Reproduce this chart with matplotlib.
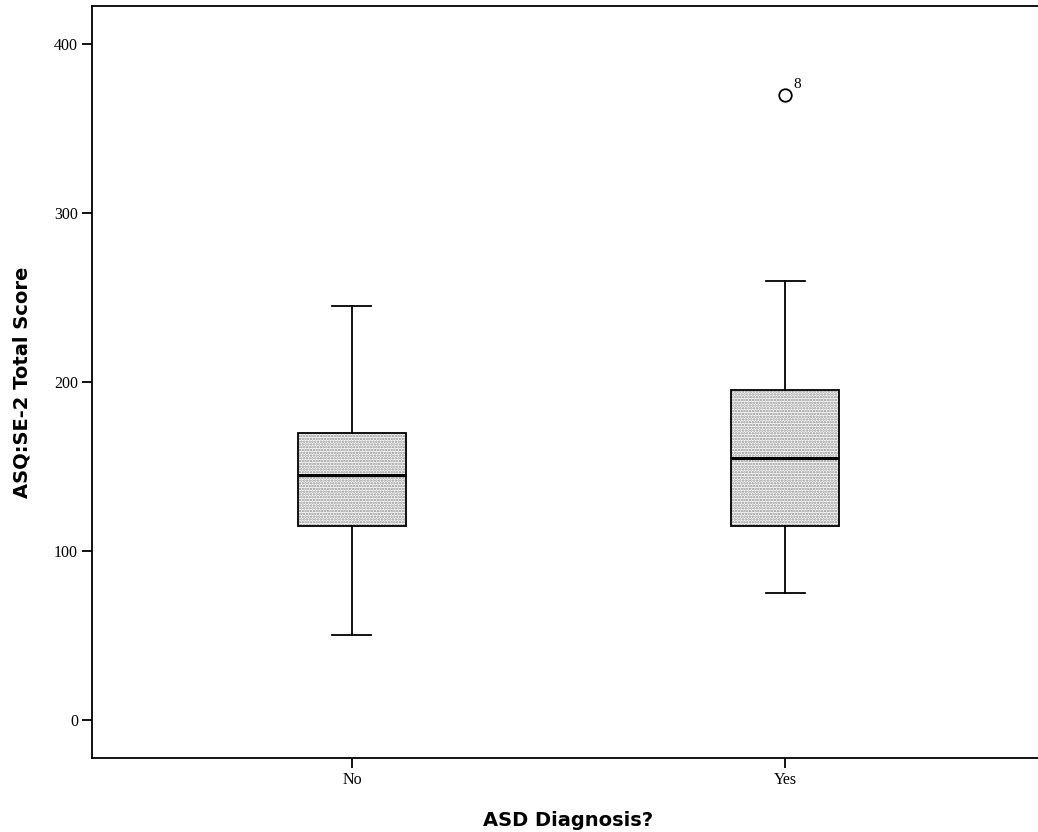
import matplotlib
matplotlib.use('Agg')
from matplotlib import pyplot as plt
from matplotlib.patches import PathPatch

# Box plot summaries
groups = ['No', 'Yes']
whislo = [50, 75]
q1 = [115, 115]
med = [145, 155]
q3 = [170, 195]
whishi = [245, 260]
outliers = [[], [370]]
outlier_ids = [[], ['8']]

stats = []
for i in range(len(groups)):
    stats.append(dict(label=groups[i], whislo=whislo[i], q1=q1[i], med=med[i],
                      q3=q3[i], whishi=whishi[i], fliers=outliers[i]))

plt.rcParams['hatch.linewidth'] = 1.2
fig = plt.figure(figsize=(10.38, 8.32), dpi=100)
# right side of the frame is cropped off in the reference
ax = fig.add_axes([92/1038, 74/832, 953/1038, 752/832])

pos = [1, 2]
bp = ax.bxp(stats, positions=pos, widths=0.25, patch_artist=True, capwidths=0.09,
            boxprops=dict(facecolor='white', edgecolor='#8c8c8c', hatch='......', linewidth=0),
            medianprops=dict(color='black', linewidth=2.2),
            whiskerprops=dict(color='black', linewidth=1.3),
            capprops=dict(color='black', linewidth=1.3),
            flierprops=dict(marker='o', markerfacecolor='none', markeredgecolor='black',
                            markersize=9, markeredgewidth=1.3))

# black outline drawn over the hatched boxes
for b in bp['boxes']:
    ax.add_patch(PathPatch(b.get_path(), fill=False, edgecolor='black', linewidth=1.3, zorder=3))

for i in range(len(groups)):
    for v, lab in zip(outliers[i], outlier_ids[i]):
        ax.annotate(lab, (pos[i], v), xytext=(6, 5), textcoords='offset points',
                    fontsize=11, family='Liberation Serif')

ax.set_xlim(0.4, 2.6)
ax.set_ylim(-22.5, 422.5)
ax.set_yticks([0, 100, 200, 300, 400])
ax.set_xticks(pos)
ax.set_xticklabels(groups)
for s in ax.spines.values():
    s.set_linewidth(1.3)
ax.tick_params(direction='out', length=7, width=1.3, labelsize=11.5, pad=3)
for t in ax.get_xticklabels() + ax.get_yticklabels():
    t.set_family('Liberation Serif')

ax.set_xlabel('ASD Diagnosis?', fontsize=14, fontweight='bold', labelpad=17)
ax.set_ylabel('ASQ:SE-2 Total Score', fontsize=14, fontweight='bold', labelpad=16)

fig.savefig('out.png', dpi=100)
